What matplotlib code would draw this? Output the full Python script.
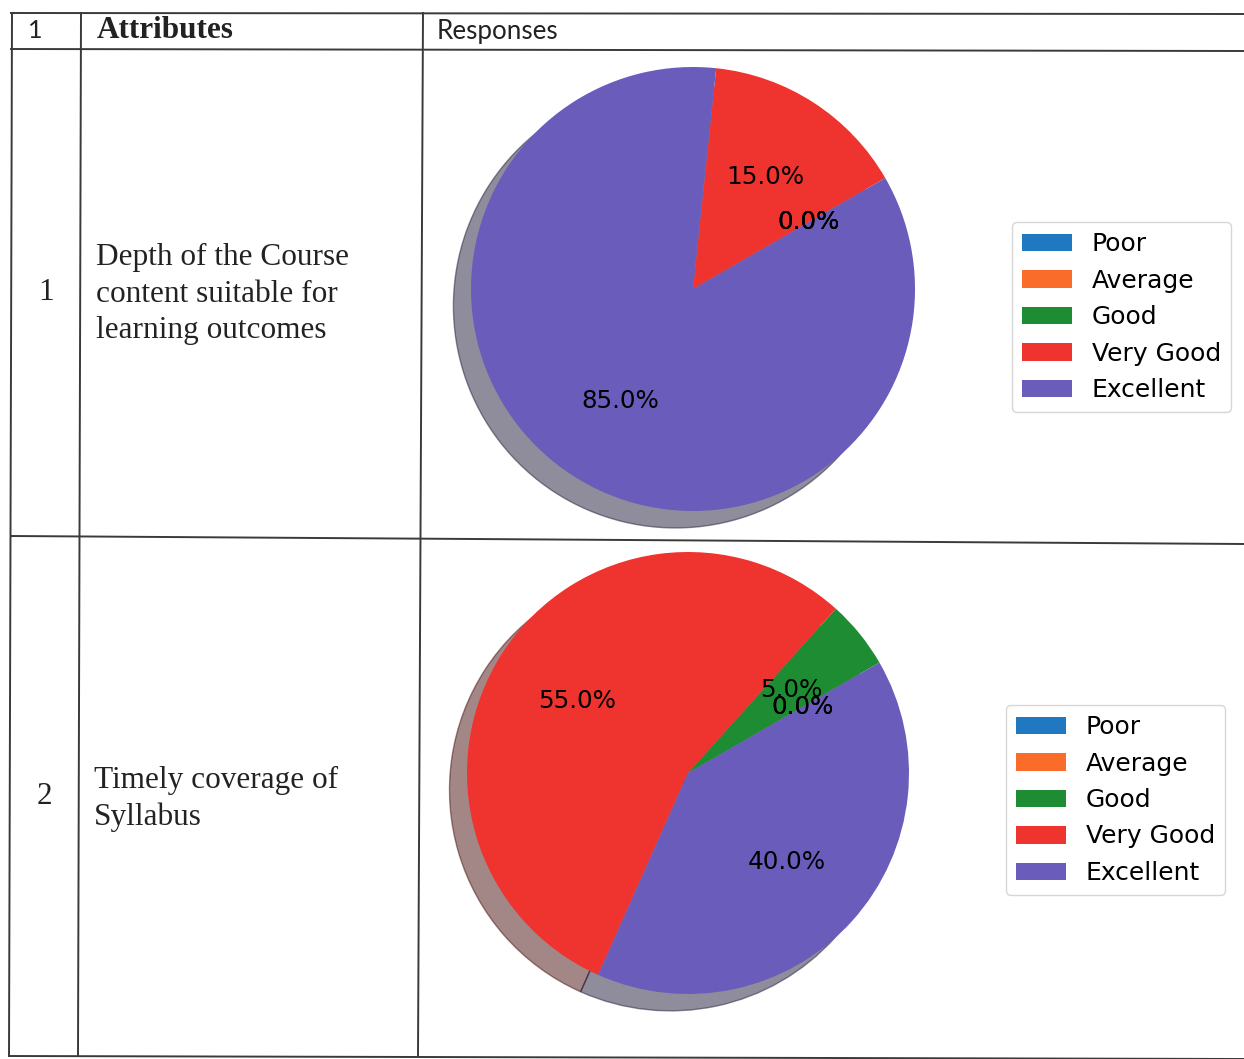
import matplotlib
matplotlib.use('Agg')

import matplotlib.pyplot as plt
from matplotlib.lines import Line2D


W, H = 1244, 1059

categories = ['Poor', 'Average', 'Good', 'Very Good', 'Excellent']
colors = ['#1f78c0', '#fa6c2a', '#1e8c32', '#ef332e', '#6a5cba']

row_numbers = ['1', '2']
attributes = [
    'Depth of the Course\ncontent suitable for\nlearning outcomes',
    'Timely coverage of\nSyllabus',
]
# percentage of responses per category
depth_values = [0, 0, 0, 15, 85]
timely_values = [0, 0, 5, 55, 40]


def fx(x):
    return x / W


def fy(y):
    return 1 - y / H


fig = plt.figure(figsize=(W / 100, H / 100), dpi=100)
fig.patch.set_facecolor('white')

# table grid (scan is slightly skewed)
grid = [
    ((11, 13), (1244, 14)),
    ((11, 49), (1244, 51)),
    ((11, 536), (1244, 544)),
    ((9, 1056), (1244, 1059)),
    ((12, 13), (9, 1056)),
    ((81, 13), (78, 1056)),
    ((423, 13), (418, 1056)),
]
for (x0, y0), (x1, y1) in grid:
    fig.add_artist(Line2D([fx(x0), fx(x1)], [fy(y0), fy(y1)],
                          transform=fig.transFigure, color='#3a3a3a', lw=1.4))

# header
fig.text(fx(35), fy(30), '1', family='Lato', fontsize=18, ha='center', va='center', color='#222222')
fig.text(fx(97), fy(31), 'Attributes', family='Liberation Serif', fontweight='bold',
         fontsize=22.5, va='center', color='#222222')
fig.text(fx(437), fy(32), 'Responses', family='Lato', fontsize=18.7, va='center', color='#222222')

# row labels
serif = dict(family='Liberation Serif', fontsize=22.5, color='#222222')
fig.text(fx(46), fy(292), row_numbers[0], ha='center', va='center', **serif)
fig.text(fx(96), fy(294), attributes[0], va='center', linespacing=1.35, **serif)
fig.text(fx(44), fy(797), row_numbers[1], ha='center', va='center', **serif)
fig.text(fx(94), fy(799), attributes[1], va='center', linespacing=1.35, **serif)


def draw_pie(values, cx, cy, r, legend_xy):
    half = 1.25 * r
    ax = fig.add_axes([fx(cx - half), fy(cy + half), 2 * half / W, 2 * half / H])
    ax.pie(values, colors=colors, autopct='%1.1f%%', startangle=30,
           shadow={'ox': -0.057, 'oy': -0.055},
           textprops={'fontsize': 17.7})
    ax.set_xlim(-1.25, 1.25)
    ax.set_ylim(-1.25, 1.25)
    # anchor the frame corner, minus the default border pad
    ax.legend(categories, loc='upper left', fontsize=18,
              bbox_to_anchor=(fx(legend_xy[0] - 12.5), fy(legend_xy[1] - 12.5)),
              bbox_transform=fig.transFigure)


draw_pie(depth_values, 693, 289, 222, (1012, 222))
draw_pie(timely_values, 688, 773, 221, (1006, 705))

plt.savefig('out.png', dpi=100)
